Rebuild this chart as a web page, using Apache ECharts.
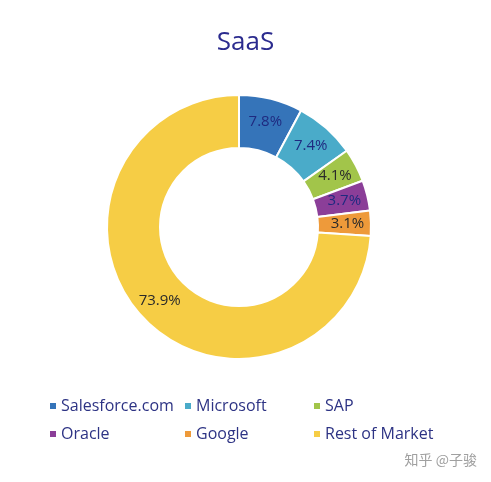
<!DOCTYPE html>
<html>
<head>
<meta charset="utf-8">
<script src="https://cdn.jsdelivr.net/npm/echarts@6/dist/echarts.min.js"></script>
<style>
  html, body { margin: 0; padding: 0; background: #fff; }
  #chart { width: 491px; height: 482px; }
</style>
</head>
<body>
<div id="chart"></div>
<script>
// 市场份额数据
const names = ["Salesforce.com", "Microsoft", "SAP", "Oracle", "Google", "Rest of Market"];
const shares = [7.8, 7.4, 4.1, 3.7, 3.1, 73.9];
const colors = ["#3574b9", "#4aabc9", "#a2c54a", "#8b3e98", "#ee9a3a", "#f6cd45"];
const labelColors = ["#1f2a80", "#1f2a80", "#2a2a2a", "#1f2a80", "#2a2a2a", "#2a2a2a"];
// 图例分三列
const legendCols = [["Salesforce.com", "Oracle"], ["Microsoft", "Google"], ["SAP", "Rest of Market"]];
const legendLeft = [43, 178, 307];

const font = "'Open Sans', 'Noto Sans', sans-serif";
const chart = echarts.init(document.getElementById("chart"));

const option = {
  backgroundColor: "#fff",
  color: colors,
  title: {
    text: "SaaS",
    left: "center",
    top: 25,
    textStyle: { color: "#2b2b8e", fontSize: 26, fontWeight: "normal", fontFamily: font },
  },
  legend: legendCols.map((col, i) => ({
    data: col,
    orient: "vertical",
    left: legendLeft[i],
    top: 393,
    itemWidth: 8,
    itemHeight: 8,
    itemGap: 12,
    icon: "rect",
    textStyle: { color: "#2d3384", fontSize: 16, fontFamily: font, padding: [0, 0, 0, -1] },
  })),
  graphic: [
    {
      type: "text",
      right: 14,
      top: 453,
      style: { text: "知乎 @子骏", fill: "#a0a0a0", font: "14px 'Noto Sans CJK SC'" },
    },
  ],
  series: [
    {
      type: "pie",
      center: [239, 227],
      radius: [79, 132],
      startAngle: 90,
      clockwise: true,
      avoidLabelOverlap: false,
      itemStyle: { borderColor: "#fff", borderWidth: 2 },
      label: {
        show: true,
        position: "inside",
        formatter: "{c}%",
        fontSize: 15,
        fontFamily: font,
      },
      labelLine: { show: false },
      data: names.map((n, i) => ({
        name: n,
        value: shares[i],
        label: { color: labelColors[i] },
      })),
    },
  ],
};
chart.setOption(option);
</script>
</body>
</html>
